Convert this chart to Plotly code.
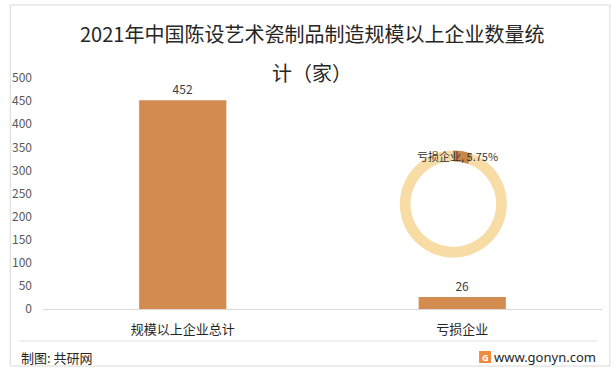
import plotly.graph_objects as go

categories = ["规模以上企业总计", "亏损企业"]
counts = [452, 26]
pie_labels = ["亏损企业", "其他企业"]
pie_values = [counts[1], counts[0] - counts[1]]
y_ticks = list(range(0, 501, 50))

W, H = 616, 372
L, R, T, B = 38, 602, 78, 309  # plot area pixels

def px(x):
    return (x - L) / (R - L)

def py(y):
    return (B - y) / (B - T)

FONT = "Noto Sans CJK SC"

fig = go.Figure()
fig.add_trace(go.Bar(
    x=categories, y=counts,
    marker=dict(color="#D48B4F", line=dict(width=0)),
    text=[str(v) for v in counts], textposition="outside",
    textfont=dict(size=12, color="#404040", family=FONT),
    cliponaxis=False, showlegend=False, hoverinfo="x+y",
))

cx, cy, r = 452, 204, 54
fig.add_trace(go.Pie(
    labels=pie_labels, values=pie_values,
    hole=0.8, sort=False, direction="clockwise", rotation=0,
    marker=dict(colors=["#C8864B", "#F7DCA6"], line=dict(width=0)),
    textinfo="none", showlegend=False,
    domain=dict(x=[px(cx - r), px(cx + r)], y=[py(cy + r), py(cy - r)]),
))

pct = pie_values[0] / sum(pie_values) * 100
annotations = [
    dict(text="2021年中国陈设艺术瓷制品制造规模以上企业数量统", x=px(309), y=py(33),
         xref="paper", yref="paper", showarrow=False, xanchor="center", yanchor="middle",
         font=dict(size=20, color="#262626", family=FONT)),
    dict(text="计（家）", x=px(309), y=py(72),
         xref="paper", yref="paper", showarrow=False, xanchor="center", yanchor="middle",
         font=dict(size=20, color="#262626", family=FONT)),
    dict(text=f"{pie_labels[0]}, {pct:.2f}%", x=px(456), y=py(156),
         xref="paper", yref="paper", showarrow=False, xanchor="center", yanchor="middle",
         font=dict(size=11, color="#333333", family=FONT)),
    dict(text="制图: 共研网", x=px(14), y=py(357),
         xref="paper", yref="paper", showarrow=False, xanchor="left", yanchor="middle",
         font=dict(size=13, color="#262626", family=FONT)),
    dict(text="www.gonyn.com", x=px(598), y=py(357),
         xref="paper", yref="paper", showarrow=False, xanchor="right", yanchor="middle",
         font=dict(size=13, color="#262626", family="Noto Sans")),
    dict(text="<b>G</b>", x=px(484), y=py(357),
         xref="paper", yref="paper", showarrow=False, xanchor="center", yanchor="middle",
         font=dict(size=9, color="white", family="Noto Sans")),
]

shapes = [
    dict(type="rect", xref="paper", yref="paper",
         x0=px(5), x1=px(610), y0=py(366), y1=py(5),
         line=dict(color="#D9D9D9", width=1), layer="below"),
    dict(type="line", xref="paper", yref="paper",
         x0=px(14), x1=px(597), y0=py(341), y1=py(341),
         line=dict(color="#E3E3E3", width=1)),
    dict(type="rect", xref="paper", yref="paper",
         x0=px(478), x1=px(490), y0=py(363), y1=py(351),
         fillcolor="#F08A3C", line=dict(width=0)),
]

fig.update_layout(
    width=W, height=H,
    margin=dict(l=L, r=W - R, t=T, b=H - B, pad=0),
    paper_bgcolor="white", plot_bgcolor="white",
    bargap=0.688,
    font=dict(family=FONT),
    annotations=annotations, shapes=shapes,
    xaxis=dict(showgrid=False, showline=True, linecolor="#D9D9D9", linewidth=1,
               ticks="", tickfont=dict(size=13, color="#262626", family=FONT),
               ticklabelstandoff=8),
    yaxis=dict(range=[0, 500], tickvals=y_ticks, showgrid=False, zeroline=False,
               showline=False, ticks="", ticklabelstandoff=10,
               tickfont=dict(size=12, color="#595959", family=FONT)),
)

fig.write_html("out.html", config={"displayModeBar": False},
               post_script="document.body.style.margin='0';document.body.style.overflow='hidden';")
